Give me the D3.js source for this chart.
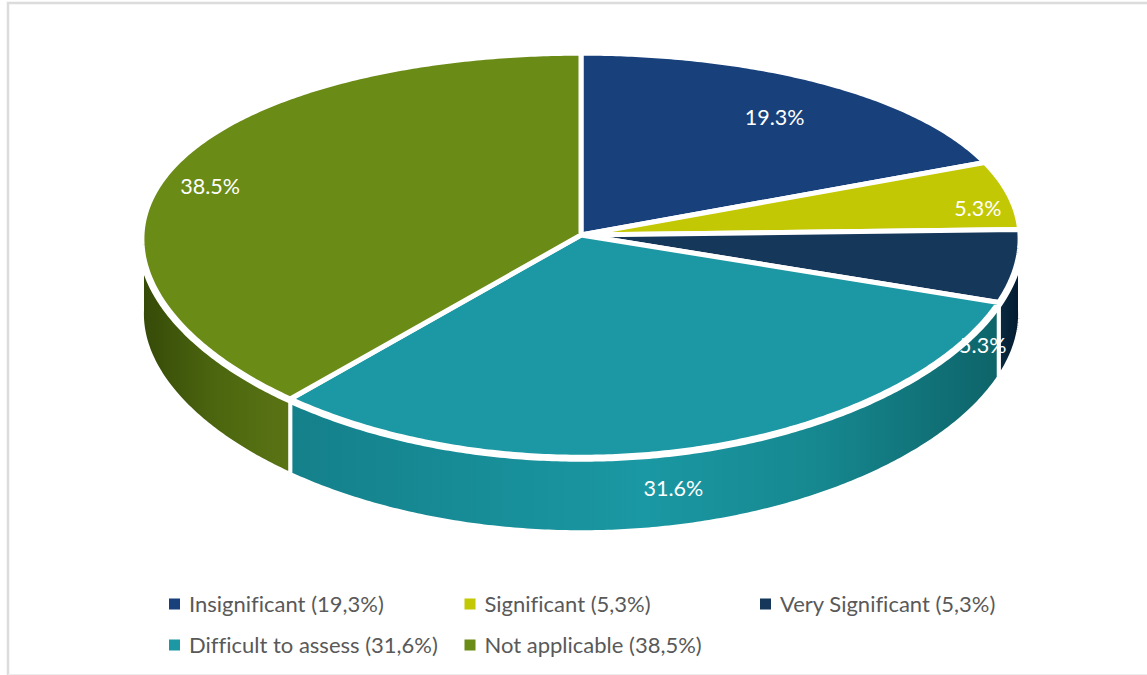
<!DOCTYPE html>
<html><head><meta charset="utf-8">
<script src="https://cdn.jsdelivr.net/npm/d3@7/dist/d3.min.js"></script>
<style>html,body{margin:0;padding:0;background:#fff;overflow:hidden}svg{display:block}text{font-variant-ligatures:none}</style>
</head><body><svg id="c" width="1147" height="675"></svg>
<script>
const categories = ["Insignificant", "Significant", "Very Significant", "Difficult to assess", "Not applicable"];
const values = [19.3, 5.3, 5.3, 31.6, 38.5];
const dataLabels = ["19.3%", "5.3%", "5.3%", "31.6%", "38.5%"];
const legendLabels = ["Insignificant (19,3%)", "Significant (5,3%)", "Very Significant (5,3%)", "Difficult to assess (31,6%)", "Not applicable (38,5%)"];
const topColors = ["#18417b", "#c3c804", "#15375a", "#1b98a3", "#6b8b17"];
const wallStops = [
  null, null,
  [[0, "#0a2a42"], [1, "#041a2e"]],
  [[0, "#14808a"], [0.5, "#1a98a3"], [0.75, "#16878f"], [1, "#0d6469"]],
  [[0, "#354a08"], [0.5, "#4c660f"], [1, "#5a7414"]]
];
// layout
const cx = 581, cy = 235, rx = 439, ry = 200, k = 0.1, kx = 0.02, warpRight = 0.042, warpLeft = 0.012, depth = 75;
const labelR = 0.85;
const labelShift = [[-4, 16], [33, 7], [32, 84], [-1, 73], [-25, 11]];

const svg = d3.select("#c");
const color = d3.scaleOrdinal(categories, topColors);
const project = (a0, r = 1) => {
  const a = a0 - (a0 < Math.PI ? warpRight : warpLeft) * Math.sin(2 * a0);
  const u = r * Math.sin(a), v = -r * Math.cos(a);
  return [cx + rx * u / (1 - kx * v), cy + ry * v / (1 - k * v)];
};
const line = d3.line();
const arcPts = (a0, a1, r = 1) => {
  const n = Math.max(2, Math.ceil(Math.abs(a1 - a0) / 0.01));
  return d3.range(n + 1).map(i => project(a0 + (a1 - a0) * i / n, r));
};
const pie = d3.pie().sort(null).value(d => d.value);
const arcs = pie(categories.map((c, i) => ({ c, value: values[i], i })));

// frame
const frame = svg.append("g").attr("fill", "none");
frame.append("path").attr("d", line([[8, 675], [8, 3], [1147, 3]])).attr("stroke", "#dcdcdc").attr("stroke-width", 2.5);
frame.append("path").attr("d", line([[8, 674.5], [1147, 674.5]])).attr("stroke", "#ececec").attr("stroke-width", 1);

// wall gradients
const defs = svg.append("defs");
arcs.forEach(d => {
  const stops = wallStops[d.data.i];
  if (!stops) return;
  const a0 = Math.max(d.startAngle, Math.PI / 2), a1 = Math.min(d.endAngle, Math.PI * 1.5);
  const xs = d3.extent(arcPts(a0, a1), p => p[0]);
  const g = defs.append("linearGradient").attr("id", "w" + d.data.i)
    .attr("gradientUnits", "userSpaceOnUse").attr("x1", xs[0]).attr("x2", xs[1]).attr("y1", 0).attr("y2", 0);
  stops.forEach(s => g.append("stop").attr("offset", s[0]).attr("stop-color", s[1]));
});

// walls
svg.append("g").selectAll("path").data(arcs.filter(d => wallStops[d.data.i])).join("path")
  .attr("d", d => {
    const a0 = Math.max(d.startAngle, Math.PI / 2), a1 = Math.min(d.endAngle, Math.PI * 1.5);
    const up = arcPts(a0, a1);
    const low = up.map(p => [p[0], p[1] + depth]).reverse();
    return line(up.concat(low)) + "Z";
  })
  .attr("fill", d => `url(#w${d.data.i})`)
  .attr("stroke", "#fff").attr("stroke-width", 4).attr("stroke-linejoin", "miter");

// halo
svg.append("path").attr("d", line(arcPts(0, Math.PI * 2)) + "Z")
  .attr("fill", "none").attr("stroke", "#fff").attr("stroke-width", 9);

// top faces
svg.append("g").selectAll("path").data(arcs).join("path")
  .attr("d", d => line([[cx, cy]].concat(arcPts(d.startAngle, d.endAngle))) + "Z")
  .attr("fill", d => color(d.data.c))
  .attr("stroke", "#fff").attr("stroke-width", 5).attr("stroke-linejoin", "round");

// data labels
svg.append("g").selectAll("text").data(arcs).join("text")
  .attr("transform", d => {
    const p = project((d.startAngle + d.endAngle) / 2, labelR);
    const s = labelShift[d.data.i];
    return `translate(${p[0] + s[0]},${p[1] + s[1]})`;
  })
  .attr("text-anchor", "middle").attr("dominant-baseline", "central")
  .attr("font-family", "Lato").attr("font-size", 21.5).attr("fill", "#fff")
  .text((d, i) => dataLabels[i]);

// legend
const col = d3.scalePoint().domain([0, 1, 2]).range([169, 760]);
const row = d3.scalePoint().domain([0, 1]).range([604, 645]);
const leg = svg.append("g").selectAll("g").data(categories).join("g")
  .attr("transform", (c, i) => `translate(${col(i % 3)},${row(Math.floor(i / 3))})`);
leg.append("rect").attr("x", 0).attr("y", -5.5).attr("width", 11).attr("height", 11).attr("fill", c => color(c));
leg.append("text").attr("x", 20).attr("y", -1).attr("dominant-baseline", "central")
  .attr("font-family", "Lato").attr("font-size", 22).attr("fill", "#595959")
  .text((c, i) => legendLabels[i]);
</script></body></html>
